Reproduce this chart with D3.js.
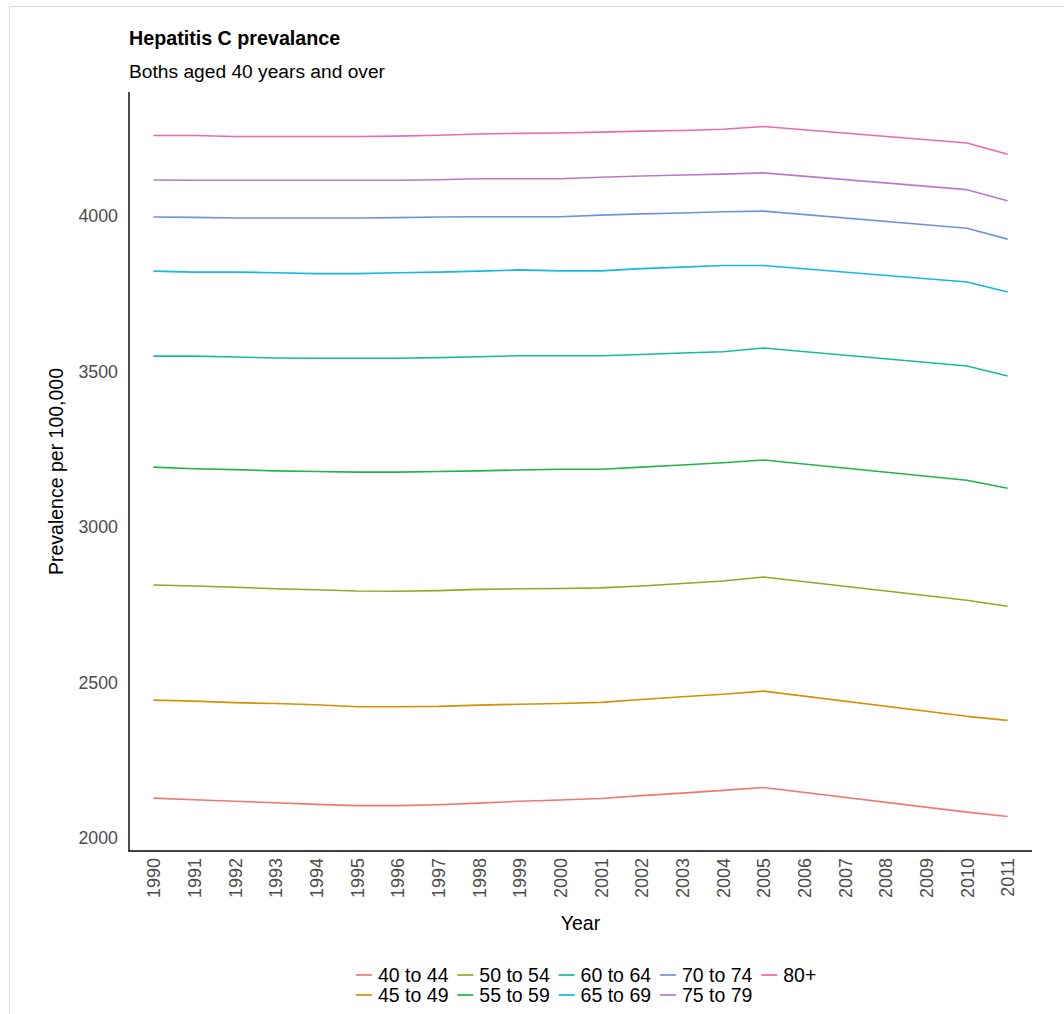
<!DOCTYPE html>
<html>
<head>
<meta charset="utf-8">
<script src="https://cdn.jsdelivr.net/npm/d3@7"></script>
<style>
  html, body { margin: 0; padding: 0; background: #fff; }
  svg { display: block; font-family: "Liberation Sans", Arial, sans-serif; }
</style>
</head>
<body>
<div id="chart"></div>
<script>
// ---- data ----
const years = d3.range(1990, 2012).map(String);
const dataYears = [1990,1991,1992,1993,1994,1995,1996,1997,1998,1999,2000,2001,2002,2003,2004,2005,2010,2011];
const ageGroups = ["40 to 44","45 to 49","50 to 54","55 to 59","60 to 64","65 to 69","70 to 74","75 to 79","80+"];
const v40to44 = [2129,2124,2119,2114,2109,2105,2105,2108,2113,2119,2123,2128,2137,2145,2154,2163,2084,2070];
const v45to49 = [2444,2441,2436,2433,2429,2423,2423,2424,2428,2431,2433,2437,2446,2455,2463,2473,2392,2379];
const v50to54 = [2814,2811,2807,2802,2799,2795,2794,2796,2800,2802,2803,2805,2811,2819,2827,2840,2765,2746];
const v55to59 = [3193,3188,3185,3181,3179,3177,3177,3179,3181,3184,3186,3186,3193,3200,3207,3216,3151,3125];
const v60to64 = [3550,3550,3547,3544,3543,3543,3543,3545,3548,3551,3551,3551,3555,3560,3564,3576,3518,3486];
const v65to69 = [3823,3820,3820,3818,3815,3815,3818,3820,3823,3827,3824,3824,3831,3836,3841,3841,3788,3756];
const v70to74 = [3997,3996,3994,3994,3994,3994,3995,3997,3998,3998,3998,4003,4007,4010,4014,4016,3961,3926];
const v75to79 = [4116,4115,4115,4115,4115,4115,4115,4117,4120,4120,4120,4125,4129,4132,4135,4139,4085,4049];
const v80plus = [4259,4259,4256,4256,4256,4256,4257,4260,4264,4266,4267,4270,4273,4275,4279,4288,4235,4199];
const seriesValues = [v40to44,v45to49,v50to54,v55to59,v60to64,v65to69,v70to74,v75to79,v80plus];
const yTicks = [2000, 2500, 3000, 3500, 4000];
const colors = ["#F3766F","#D39200","#93AA1E","#1FB547","#14BE9C","#13B8E3","#6E93DA","#B97BC6","#EC69B0"];

const titleText = "Hepatitis C prevalance";
const subtitleText = "Boths aged 40 years and over";
const xTitle = "Year";
const yTitle = "Prevalence per 100,000";

// ---- layout ----
const W = 1064, H = 1014;
const plot = { left: 129, right: 1032, top: 92, bottom: 851 };

const svg = d3.select("#chart").append("svg").attr("width", W).attr("height", H);
svg.append("rect").attr("width", W).attr("height", H).attr("fill", "#fff");
// outer light frame
svg.append("rect").attr("x", 9.5).attr("y", 6.5).attr("width", W).attr("height", H)
  .attr("fill", "none").attr("stroke", "#d9d9d9").attr("stroke-width", 1);

const series = ageGroups.map((g, i) => ({
  name: g, color: colors[i],
  values: dataYears.map((y, j) => ({ year: String(y), value: seriesValues[i][j] }))
}));

const x = d3.scalePoint().domain(years).range([plot.left, plot.right]).padding(0.6);
const allVals = seriesValues.flat();
const vmin = d3.min(allVals), vmax = d3.max(allVals), pad = (vmax - vmin) * 0.05;
const y = d3.scaleLinear().domain([vmin - pad, vmax + pad]).range([plot.bottom, plot.top]);

// lines
const line = d3.line().x(d => x(d.year)).y(d => y(d.value));
svg.append("g").selectAll("path").data(series).join("path")
  .attr("d", d => line(d.values))
  .attr("fill", "none").attr("stroke", d => d.color).attr("stroke-width", 1.6)
  .attr("stroke-linejoin", "round");

// axes
const yAxis = d3.axisLeft(y).tickValues(yTicks).tickSize(0).tickPadding(11).tickFormat(d3.format("d"));
const gy = svg.append("g").attr("transform", `translate(${plot.left},0)`).call(yAxis);
gy.select(".domain").remove();
gy.selectAll("text").attr("fill", "#4d4d4d").style("font-size", "17.8px");

const xAxis = d3.axisBottom(x).tickSize(0).tickPadding(7);
const gx = svg.append("g").attr("transform", `translate(0,${plot.bottom})`).call(xAxis);
gx.select(".domain").remove();
gx.selectAll("text")
  .attr("fill", "#4d4d4d").style("font-size", "18px")
  .attr("transform", "rotate(-90)")
  .attr("x", -7).attr("y", 0).attr("dy", "0.35em")
  .attr("text-anchor", "end");

// axis lines
svg.append("line").attr("x1", plot.left).attr("x2", plot.left).attr("y1", plot.top).attr("y2", plot.bottom + 0.5)
  .attr("stroke", "#000").attr("stroke-width", 1.4);
svg.append("line").attr("x1", plot.left - 0.5).attr("x2", plot.right).attr("y1", plot.bottom).attr("y2", plot.bottom)
  .attr("stroke", "#000").attr("stroke-width", 1.4);

// titles
svg.append("text").attr("x", plot.left).attr("y", 45).text(titleText)
  .style("font-size", "19.7px").style("font-weight", "bold").attr("fill", "#000");
svg.append("text").attr("x", plot.left).attr("y", 78).text(subtitleText)
  .style("font-size", "19.2px").attr("fill", "#000");
svg.append("text").attr("x", (plot.left + plot.right) / 2).attr("y", 930).attr("text-anchor", "middle")
  .text(xTitle).style("font-size", "19.5px").attr("fill", "#000");
svg.append("text").attr("transform", `translate(63,${(plot.top + plot.bottom) / 2}) rotate(-90)`)
  .attr("text-anchor", "middle").text(yTitle).style("font-size", "19.5px").attr("fill", "#000");

// legend (two rows, filled by column)
const legX0 = 356, colStep = 101.3, rowY = [975, 995];
const leg = svg.append("g");
series.forEach((s, i) => {
  const col = Math.floor(i / 2), row = i % 2;
  const gx0 = legX0 + col * colStep, gy0 = rowY[row];
  leg.append("line").attr("x1", gx0).attr("x2", gx0 + 16).attr("y1", gy0).attr("y2", gy0)
    .attr("stroke", s.color).attr("stroke-width", 1.7);
  leg.append("text").attr("x", gx0 + 22).attr("y", gy0).attr("dy", "0.36em")
    .text(s.name).style("font-size", "19.5px").attr("fill", "#000");
});
</script>
</body>
</html>
